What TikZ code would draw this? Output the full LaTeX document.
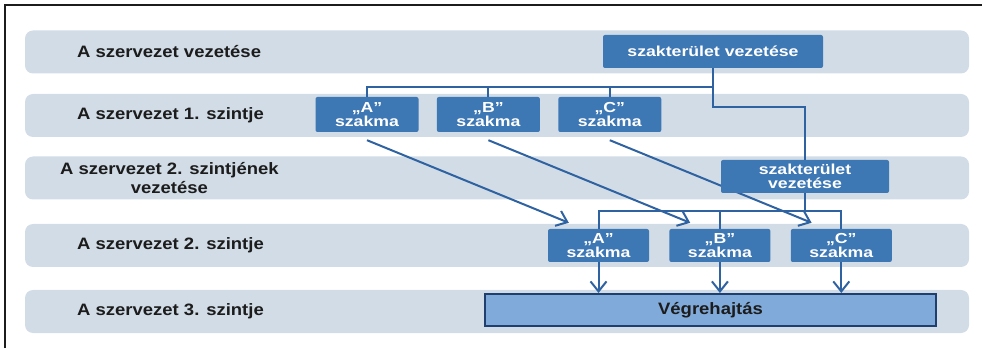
\documentclass[tikz,border=0pt]{standalone}
\usepackage{fontspec}
\setmainfont{Liberation Sans}[FakeStretch=1.12]
\newfontfamily\boxfont{Liberation Sans}[FakeStretch=1.22]
\usepackage{xcolor}
\definecolor{ink}{HTML}{1C1C1C}
\definecolor{band}{HTML}{D1DCE6}
\definecolor{unit}{HTML}{3D77B4}
\definecolor{wire}{HTML}{2F62A0}
\definecolor{exec}{HTML}{80AADA}
\definecolor{execline}{HTML}{1F3F6E}
\usepackage{tikz}
\usetikzlibrary{positioning,calc,arrows.meta}
\pgfdeclarelayer{back}
\pgfsetlayers{back,main}

\begin{document}
\begin{tikzpicture}[x=1pt,y=1pt,
  row/.style={rounded corners=8pt,fill=band,minimum width=944pt,minimum height=43pt,inner sep=0pt},
  lbl/.style={anchor=west,inner sep=0pt,text=ink,align=center,font=\fontsize{16.5}{18.5}\selectfont\bfseries},
  unitbox/.style={rounded corners=2pt,fill=unit,text=white,minimum height=33pt,inner sep=0pt,align=center,font=\boxfont\fontsize{14.5}{13.5}\selectfont\bfseries},
  wire/.style={draw=wire,line width=2pt},
  arr/.style={wire,-{Straight Barb[length=10pt,width=16pt]}}]
  \useasboundingbox (0,0) rectangle (982,348);
  \draw[line width=1.4pt,ink] (5,0) -- (5,343) -- (982,343);
  \begin{pgfonlayer}{back}
    \foreach \y/\n in {296/1,232.5/2,170/3,102.5/4,36.5/5} \node[row] (r\n) at (497,\y) {};
  \end{pgfonlayer}
  \node[lbl] (l1) at (77,296) {A szervezet vezetése};
  \node[lbl] (l2) at (77,232.5) {A szervezet 1. szintje};
  \node[lbl] (l3) at (60,170) {A szervezet 2. szintjének\\vezetése};
  \node[lbl] (l4) at (77,102.5) {A szervezet 2. szintje};
  \node[lbl] (l5) at (77,36.5) {A szervezet 3. szintje};

  \node[unitbox,minimum width=220pt] (sv1) at (713,296.5) {szakterület vezetése};
  \node[unitbox,minimum width=103pt,minimum height=35pt] (a1) at (367,233.5) {„A”\\szakma};
  \node[unitbox,minimum width=103pt,minimum height=35pt,right=18pt of a1] (b1) {„B”\\szakma};
  \node[unitbox,minimum width=103pt,minimum height=35pt,right=18pt of b1] (c1) {„C”\\szakma};
  \node[unitbox,minimum width=168pt] (sv2) at (805,171.5) {szakterület\\vezetése};
  \node[unitbox,minimum width=101pt] (a2) at (598.5,102.5) {„A”\\szakma};
  \node[unitbox,minimum width=101pt,right=20pt of a2] (b2) {„B”\\szakma};
  \node[unitbox,minimum width=101pt,right=20pt of b2] (c2) {„C”\\szakma};
  \node[draw=execline,fill=exec,line width=2pt,minimum width=451pt,minimum height=32pt,inner sep=0pt,text=ink,font=\fontsize{16.5}{17}\selectfont\bfseries] (veg) at (710.5,38) {Végrehajtás};

  \coordinate (bus1) at (0,261);
  \coordinate (bend) at (0,241);
  \coordinate (bus2) at (0,137);
  \draw[wire] (a1.north) |- (sv1 |- bus1);
  \foreach \u in {b1,c1} \draw[wire] (\u.north) -- (\u |- bus1);
  \draw[wire] (sv1.south) -- (sv1 |- bend) -| (sv2.north);
  \draw[wire] (a2.north) |- (c2 |- bus2) -- (c2.north);
  \draw[wire] (b2.north) -- (b2 |- bus2);
  \draw[wire] (sv2.south) -- (sv2 |- bus2);
  \foreach \u in {a2,b2,c2} \draw[arr] (\u.south) -- (\u |- veg.north);
  \begin{pgfonlayer}{back}
    \foreach \p/\q in {a1/a2,b1/b2,c1/c2} \draw[arr] ([yshift=-8pt]\p.south) -- ([xshift=21pt,yshift=6pt]\q.north west);
  \end{pgfonlayer}
\end{tikzpicture}
\end{document}
